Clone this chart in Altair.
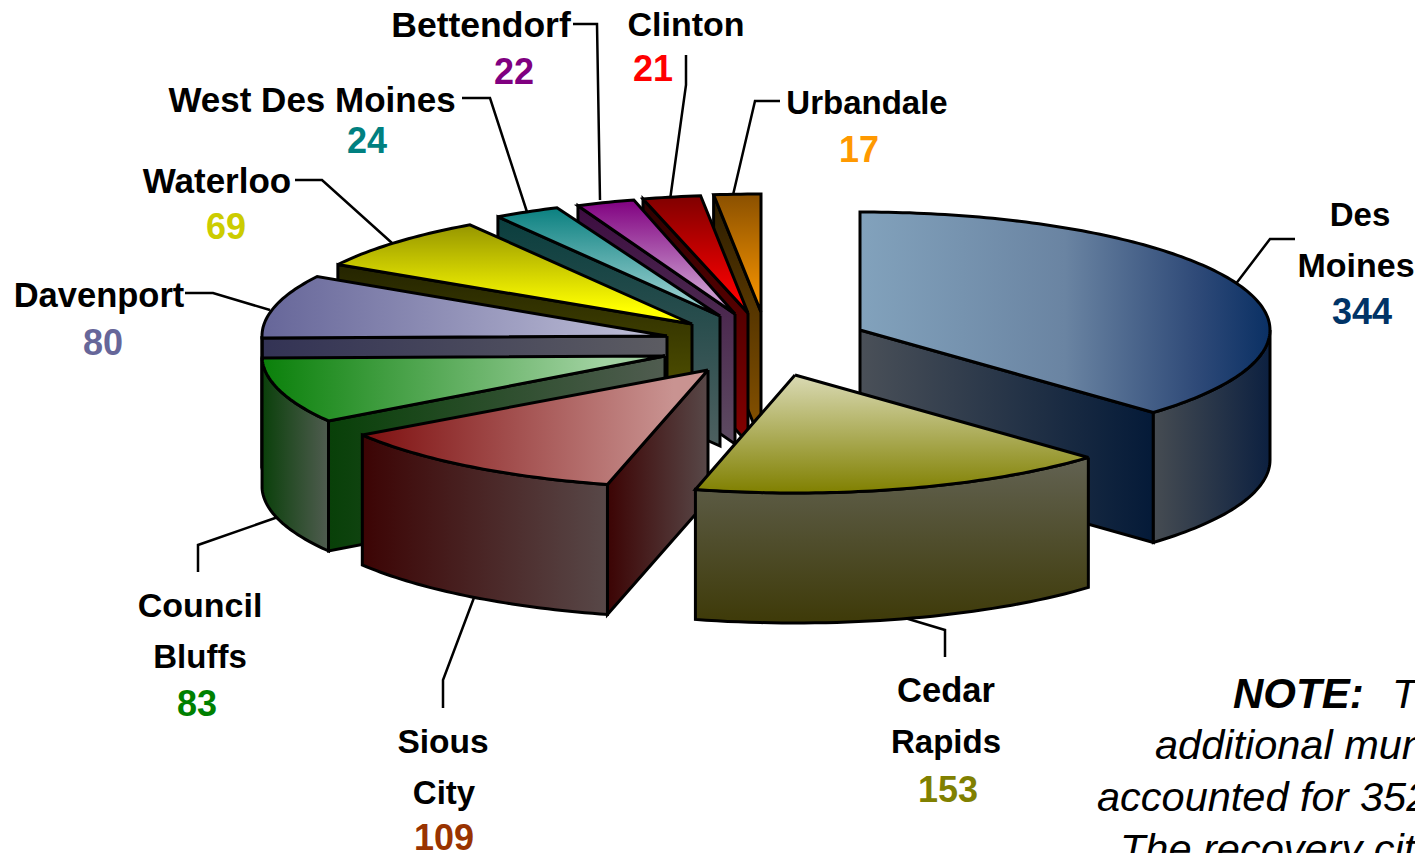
import numpy as np
import pandas as pd
import altair as alt

# ---- data ----
cities = ["Des Moines", "Cedar Rapids", "Sious City", "Council Bluffs", "Davenport",
          "Waterloo", "West Des Moines", "Bettendorf", "Clinton", "Urbandale"]
counts = [344, 153, 109, 83, 80, 69, 24, 22, 21, 17]
count_colors = ["#003366", "#808000", "#993300", "#008000", "#666699",
                "#CCCC00", "#008080", "#800080", "#FF0000", "#FF9900"]

# ---- exploded 3-D pie layout ----
apex_x = [860, 795, 708, 665, 667, 692, 720, 735, 748, 761]
apex_y = [330, 375, 370, 356, 336, 324, 316, 314, 313, 312]
radius_x = [410, 410, 414, 403, 405, 410, 410, 395, 410, 410]
RY = 118
DEPTH = 130
paint_order = [9, 8, 7, 6, 5, 4, 3, 2, 0, 1]

H, V = dict(x1=0, x2=1, y1=0, y2=0), dict(x1=0, x2=0, y1=0, y2=1)
top_fill = [
    (H, [("#82A2BC", 0), ("#6A84A2", .5), ("#2F4A78", .82), ("#0A3064", 1)]),
    (V, [("#DADAB4", 0), ("#808000", 1)]),
    (H, [("#7E0F0F", 0), ("#C99391", .9), ("#C99391", 1)]),
    (H, [("#0A800A", 0), ("#A2D2A2", .85), ("#A2D2A2", 1)]),
    (H, [("#666699", 0), ("#C2C2DA", 1)]),
    (V, [("#969600", 0), ("#FFFF00", .85), ("#FFFF00", 1)]),
    (V, [("#0A8080", 0), ("#8CC8C8", .8), ("#8CC8C8", 1)]),
    (V, [("#800080", 0), ("#C896CC", .8), ("#C896CC", 1)]),
    (V, [("#800000", 0), ("#FF0000", .9), ("#FF0000", 1)]),
    (V, [("#8A5000", 0), ("#FF9900", 1)]),
]
face_fill = [
    (H, [("#4A5058", 0), ("#041A38", 1)]), None,
    (H, [("#3C0404", 0), ("#584848", 1)]),
    (H, [("#084008", 0), ("#505C50", 1)]),
    (H, [("#333355", 0), ("#5C5C62", 1)]),
    (V, [("#242400", 0), ("#646400", 1)]),
    (V, [("#0A3E3E", 0), ("#4E6060", 1)]),
    (V, [("#3C0C40", 0), ("#5E4C62", 1)]),
    (V, [("#2C0000", 0), ("#840000", 1)]),
    (V, [("#2A1C00", 0), ("#8A5400", 1)]),
]
rim_fill = [
    (H, [("#464C52", 0), ("#0C2040", 1)]),
    (V, [("#626252", 0), ("#3E3A08", 1)]),
    (H, [("#3C0404", 0), ("#584848", 1)]),
    (H, [("#0A400A", 0), ("#505C50", 1)]),
    (H, [("#333355", 0), ("#333355", 1)]),
    None, None, None, None, None,
]
face_edge = ["end", None, "start", "start", "start", "start", "start", "start", "start", "start"]

# leader lines: label elbow positions
leaders = {
    "Des Moines": [(1235, 285), (1270, 239), (1295, 239)],
    "Cedar Rapids": [(905, 618), (945, 630), (945, 657)],
    "Sious City": [(475, 595), (443, 680), (443, 708)],
    "Council Bluffs": [(278, 517), (198, 545), (198, 572)],
    "Davenport": [(270, 310), (213, 293), (185, 293)],
    "Waterloo": [(392, 243), (322, 180), (295, 180)],
    "West Des Moines": [(527, 212), (490, 98), (462, 98)],
    "Bettendorf": [(600, 200), (597, 24), (573, 24)],
    "Clinton": [(670, 200), (686, 85), (686, 55)],
    "Urbandale": [(733, 195), (755, 101), (780, 101)],
}
label_rows = [
    ("Des", 1360, 216, 33), ("Moines", 1356, 267, 34),
    ("Cedar", 946, 692, 34.5), ("Rapids", 946, 743, 33),
    ("Sious", 443, 743, 33.5), ("City", 444, 794, 33),
    ("Council", 200, 607, 34), ("Bluffs", 200, 658, 33),
    ("Davenport", 99, 297, 34.5), ("Waterloo", 217, 182, 35),
    ("West Des Moines", 312, 101, 35), ("Bettendorf", 481, 26, 35.5),
    ("Clinton", 686, 26, 34), ("Urbandale", 867, 104, 33),
]
count_x = [1362, 948, 444, 197, 103, 226, 367, 514, 653, 859]
count_y = [313, 791, 839, 705, 344, 228, 142, 73, 70, 151]

note_bold = ("NOTE:", 1233, 708)
note_lines = [("The", 1392, 708), ("additional municipalities", 1155, 759),
              ("accounted for 352", 1097, 811), ("The recovery cities", 1120, 863)]

# ---- scales: one shared pixel-sized frame ----
W, Ht = 1407, 845
xs = alt.Scale(domain=[8, 8 + W], range=[0, W])
ys = alt.Scale(domain=[8, 8 + Ht], range=[0, Ht])
X = alt.X("x:Q", scale=xs, axis=None)
Y = alt.Y("y:Q", scale=ys, axis=None)


def gradient(spec):
    d, stops = spec
    return alt.Gradient(gradient="linear",
                        stops=[alt.GradientStop(color=c, offset=o) for c, o in stops],
                        **d)


def polygon(xv, yv, spec, sw=3):
    xv, yv = list(xv), list(yv)
    df = pd.DataFrame({"x": xv + xv[:1], "y": yv + yv[:1]})
    df["i"] = range(len(df))
    return alt.Chart(df).mark_line(fill=gradient(spec), stroke="black", strokeWidth=sw,
                                   strokeJoin="miter", strokeMiterLimit=3, clip=False).encode(
        x=X, y=Y, order="i:Q")


def ell(ax, ay, rx, deg):
    t = np.radians(deg)
    return ax + rx * np.sin(t), ay - RY * np.cos(t)


total = sum(counts)
edges = np.concatenate([[0], np.cumsum(counts)]) / total * 360

layers = []
# leader lines sit behind the pie
for name, pts in leaders.items():
    df = pd.DataFrame(pts, columns=["x", "y"])
    df["i"] = range(len(df))
    layers.append(alt.Chart(df).mark_line(color="black", strokeWidth=2.5).encode(x=X, y=Y, order="i:Q"))

for k in paint_order:
    a0, a1 = edges[k], edges[k + 1]
    ax, ay, rx = apex_x[k], apex_y[k], radius_x[k]
    # radial cut face
    if face_edge[k]:
        ang = a0 if face_edge[k] == "start" else a1
        ex, ey = ell(ax, ay, rx, ang)
        layers.append(polygon([ax, ex, ex, ax], [ay, ey, ey + DEPTH, ay + DEPTH], face_fill[k]))
    # outer rim (only the front half of the ellipse shows)
    lo, hi = max(a0, 90), min(a1, 270)
    if rim_fill[k] and hi > lo:
        t = np.linspace(lo, hi, 40)
        ex, ey = ell(ax, ay, rx, t)
        layers.append(polygon(np.r_[ex, ex[::-1]], np.r_[ey, ey[::-1] + DEPTH], rim_fill[k]))
    # top surface
    t = np.linspace(a0, a1, max(int(a1 - a0) + 2, 6))
    ex, ey = ell(ax, ay, rx, t)
    layers.append(polygon(np.r_[ax, ex], np.r_[ay, ey], top_fill[k]))

FONT = "Liberation Sans"
lab = pd.DataFrame(label_rows, columns=["t", "x", "y", "s"])
lab["c"] = "#000000"
cnt = pd.DataFrame({"t": [str(v) for v in counts], "x": count_x, "y": count_y, "c": count_colors, "s": 36})
for df in (lab, cnt):
    layers.append(alt.Chart(df).mark_text(font=FONT, fontWeight="bold", baseline="middle",
                                          align="center").encode(
        x=X, y=Y, text="t:N", color=alt.Color("c:N", scale=None), size=alt.Size("s:Q", scale=None)))

layers.append(alt.Chart(pd.DataFrame([note_bold], columns=["t", "x", "y"])).mark_text(
    font=FONT, fontWeight="bold", fontStyle="italic", fontSize=42, align="left", baseline="alphabetic",
    color="black").encode(x=X, y=Y, text="t:N"))
layers.append(alt.Chart(pd.DataFrame(note_lines, columns=["t", "x", "y"])).mark_text(
    font=FONT, fontStyle="italic", fontSize=41.5, align="left", baseline="alphabetic",
    color="black").encode(x=X, y=Y, text="t:N"))

chart = alt.layer(*layers).properties(
    width=W, height=Ht, padding=0, autosize=alt.AutoSizeParams(type="none"), background="white"
).configure_view(stroke=None)

chart.save("out.html", embed_options={"renderer": "svg", "actions": False})
